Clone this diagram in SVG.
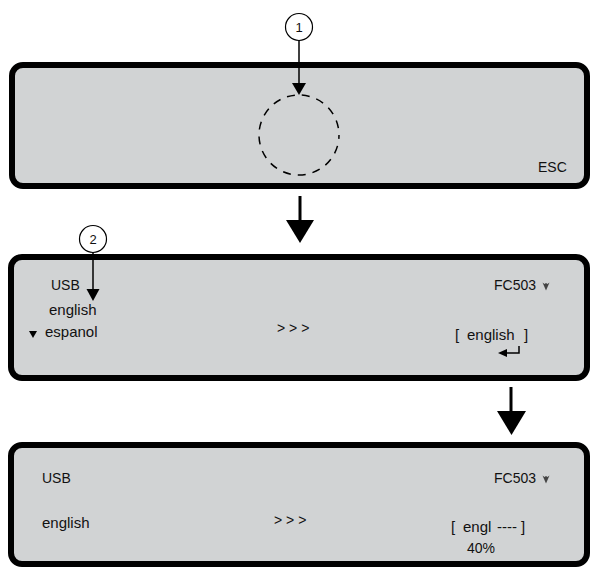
<svg xmlns="http://www.w3.org/2000/svg" width="592" height="568" viewBox="0 0 592 568">
<defs>
<style>
.panel{fill:#d1d3d4;stroke:#000;stroke-width:6}
.t{font-family:"Liberation Sans",Arial,sans-serif;font-size:14px;fill:#111}
.l{font-family:"Liberation Sans",Arial,sans-serif;font-size:15px;fill:#111}
.c{font-family:"Liberation Sans",Arial,sans-serif;font-size:13px;fill:#111;text-anchor:middle}
.callout{fill:#fff;stroke:#000;stroke-width:1.2}
.ln{stroke:#000;stroke-width:1.5;fill:none}
.big{stroke:#000;stroke-width:3;fill:none}
</style>
<symbol id="sig" viewBox="0 0 8 9">
<path d="M0.5 0.5 L4 8.5 L7.5 0.5 L5.5 2 L4 1 L2.5 2 Z" fill="#444"/>
</symbol>
</defs>
<rect width="592" height="568" fill="#fff"/>

<g id="panel1">
<rect class="panel" x="12" y="65" width="575" height="121" rx="11"/>
<circle cx="299" cy="135" r="40" fill="none" stroke="#000" stroke-width="1.5" stroke-dasharray="8 7" stroke-dashoffset="4"/>
<text class="t" x="538" y="172">ESC</text>
</g>

<g id="panel2">
<rect class="panel" x="11" y="257" width="576" height="121" rx="11"/>
<text class="t" x="51" y="290">USB</text>
<text class="l" x="49" y="315">english</text>
<path d="M29 331 L37 331 L33 338 Z" fill="#000"/>
<text class="l" x="45" y="337">espanol</text>
<text class="t" x="277" y="333">&gt; &gt; &gt;</text>
<text class="l" x="455" y="340">[</text>
<text class="l" x="467" y="340">english</text>
<text class="l" x="524" y="340">]</text>
<path d="M506 353 L519 353 L519 346" class="ln"/>
<path d="M498 353 L507 349 L507 357 Z" fill="#000"/>
<text class="t" x="494" y="290">FC503</text>
<use href="#sig" x="542" y="282" width="8" height="9"/>
</g>

<g id="panel3">
<rect class="panel" x="11" y="445" width="576" height="119" rx="11"/>
<text class="t" x="42" y="483">USB</text>
<text class="l" x="42" y="528">english</text>
<text class="t" x="274" y="525">&gt; &gt; &gt;</text>
<text class="l" x="451" y="532">[</text>
<text class="l" x="463" y="532">engl</text>
<text class="l" x="497" y="532">----</text>
<text class="l" x="521" y="532">]</text>
<text class="t" x="467" y="553">40%</text>
<text class="t" x="494" y="483">FC503</text>
<use href="#sig" x="542" y="475" width="8" height="9"/>
</g>

<g id="callout1">
<circle class="callout" cx="299" cy="27" r="13.5"/>
<text class="c" x="299" y="32">1</text>
</g>
<g id="callout2">
<circle class="callout" cx="93" cy="239" r="13.5"/>
<text class="c" x="93" y="244">2</text>
</g>

<g id="connectors">
<line class="ln" x1="299" y1="40.5" x2="299" y2="84"/>
<path d="M292 83 L306 83 L299 95 Z" fill="#000"/>
<line class="ln" x1="93" y1="252.5" x2="93" y2="290"/>
<path d="M86.5 289 L99.5 289 L93 301 Z" fill="#000"/>
<line class="big" x1="300" y1="196" x2="300" y2="221"/>
<path d="M286 220 L314 220 L300 243 Z" fill="#000"/>
<line class="big" x1="511" y1="387" x2="511" y2="412"/>
<path d="M497 411 L526 411 L511.5 435 Z" fill="#000"/>
</g>
</svg>
